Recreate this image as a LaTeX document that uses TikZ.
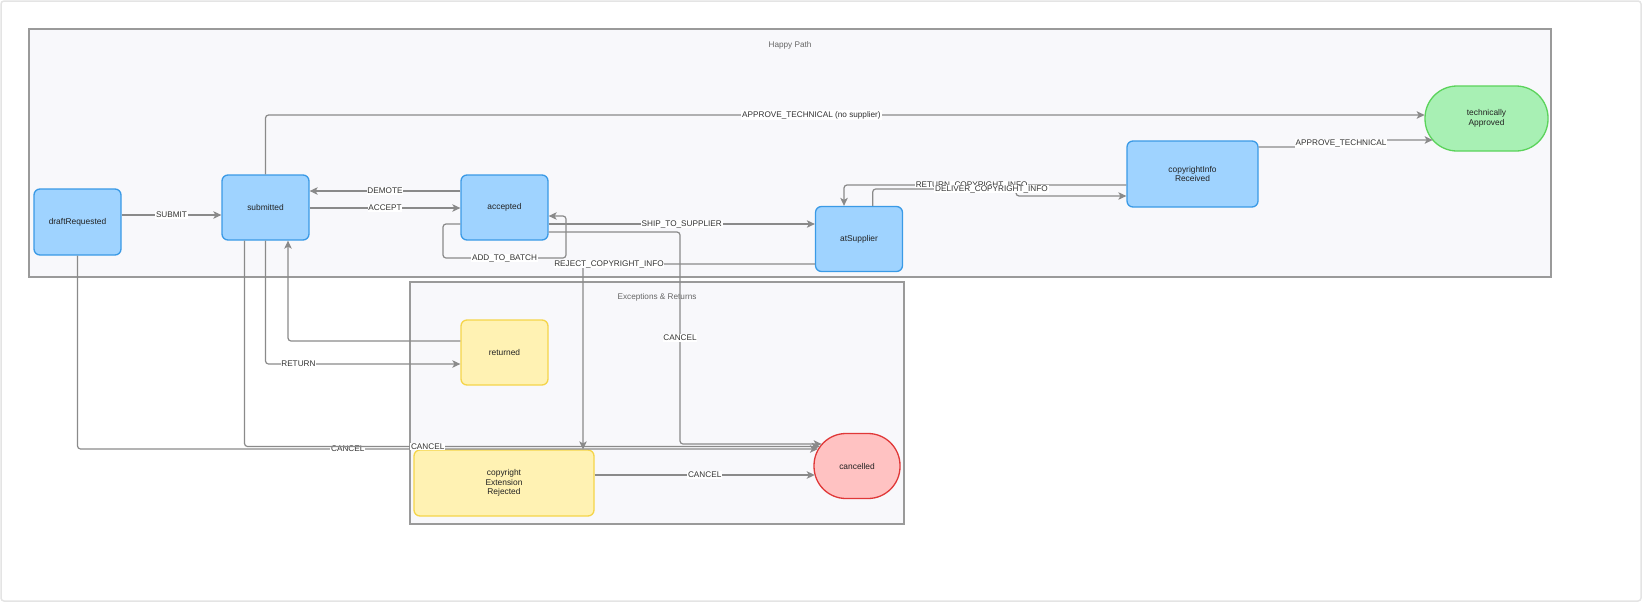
\documentclass[tikz,border=0pt]{standalone}
\usepackage{fontspec}
\setmainfont{Liberation Sans}
\usetikzlibrary{arrows.meta}
\definecolor{bluefill}{HTML}{9FD3FF}
\definecolor{bluedraw}{HTML}{3A9AE6}
\definecolor{greenfill}{HTML}{A8F0B4}
\definecolor{greendraw}{HTML}{5BD35B}
\definecolor{yellowfill}{HTML}{FFF2B3}
\definecolor{yellowdraw}{HTML}{F5D54A}
\definecolor{redfill}{HTML}{FFC2C2}
\definecolor{reddraw}{HTML}{E03838}
\definecolor{framefill}{HTML}{F8F8FB}
\definecolor{framedraw}{HTML}{9A9A9A}
\definecolor{edgegray}{HTML}{8A8A8A}
\definecolor{cardline}{HTML}{E4E4E4}
\definecolor{nodetext}{HTML}{222222}
\definecolor{labeltext}{HTML}{333333}
\definecolor{titletext}{HTML}{666666}
\tikzset{
  stbase/.style={rectangle, rounded corners=6pt, line width=1.3pt, inner sep=0pt,
    minimum width=87pt, minimum height=65pt, align=center, text=nodetext,
    font=\fontsize{8.4}{9.8}\selectfont},
  bstate/.style={stbase, draw=bluedraw, fill=bluefill},
  ystate/.style={stbase, draw=yellowdraw, fill=yellowfill},
  gstate/.style={stbase, rounded corners=32pt, draw=greendraw, fill=greenfill},
  rstate/.style={stbase, rounded corners=32pt, draw=reddraw, fill=redfill},
  framebox/.style={draw=framedraw, fill=framefill, line width=1.1pt},
  ftitle/.style={font=\fontsize{8.2}{9}\selectfont, text=titletext, inner sep=1pt},
  edge/.style={draw=edgegray, line width=1.2pt, rounded corners=3pt,
    -{Stealth[length=8pt,width=7.5pt,inset=2pt]}},
  lbl/.style={fill=white, inner sep=0.8pt, text=labeltext, rounded corners=0pt,
    font=\fontsize{8.2}{9}\selectfont},
}
\begin{document}
\begin{tikzpicture}[x=1pt,y=-1pt]
\useasboundingbox (0,0) rectangle (1645,603);
\draw[cardline, line width=1.5pt, rounded corners=3pt] (1,1) rectangle (1641,601);
% frames
\draw[framebox] (29,29) rectangle (1551,277);
\node[ftitle] (hp) at (790,45) {Happy Path};
\draw[framebox] (410,282) rectangle (904,524);
\node[ftitle] (ex) at (657,297) {Exceptions \& Returns};
% states
\node[bstate, minimum height=66pt] (dr) at (77.5,222) {draftRequested};
\node[bstate] (sub) at (265.5,207.5) {submitted};
\node[bstate] (acc) at (504.5,207.5) {accepted};
\node[bstate] (sup) at (859,239) {atSupplier};
\node[bstate, minimum width=131pt, minimum height=66pt] (cir) at (1192.5,174) {copyrightInfo\\Received};
\node[gstate, minimum width=123pt] (ta) at (1486.5,118.5) {technically\\Approved};
\node[ystate] (ret) at (504.5,352.5) {returned};
\node[ystate, minimum width=180pt, minimum height=66pt] (cer) at (504,483) {copyright\\Extension\\Rejected};
\node[rstate, minimum width=86pt] (can) at (857,466) {cancelled};
% transitions
\draw[edge] (dr.east |- 0,215) -- node[lbl]{SUBMIT} (sub.west |- 0,215);
\draw[edge] (acc.west |- 0,191) -- node[lbl]{DEMOTE} (sub.east |- 0,191);
\draw[edge] (sub.east |- 0,208) -- node[lbl]{ACCEPT} (acc.west |- 0,208);
\draw[edge] (acc.west |- 0,224) -- (443,224) -- (443,258) -- node[lbl]{ADD\_TO\_BATCH} (566,258) -- (566,216) -- (acc.east |- 0,216);
\draw[edge] (sub.north) -- (265.5,115) -- node[lbl,pos=0.471]{APPROVE\_TECHNICAL (no supplier)} ([xshift=0.3pt]ta.west |- 0,115);
\draw[edge] (acc.east |- 0,224) -- node[lbl]{SHIP\_TO\_SUPPLIER} (sup.west |- 0,224);
\draw[edge] (acc.east |- 0,232) -- (680,232) -- node[lbl]{CANCEL} (680,444) -- ([xshift=8.3pt]can.west |- 0,444);
\draw[edge] (sup.west |- 0,264) -- node[lbl,pos=0.888]{REJECT\_COPYRIGHT\_INFO} (583,264) -- (583,0 |- cer.north);
\draw[edge] (cir.west |- 0,185) -- node[lbl,pos=0.548]{RETURN\_COPYRIGHT\_INFO} (844,185) -- (844,0 |- sup.north);
\draw[edge] (872.7,0 |- sup.north) -- (872.7,189) -- node[lbl,pos=0.829]{DELIVER\_COPYRIGHT\_INFO} (1016,189) -- (1016,196) -- (cir.west |- 0,196);
\draw[edge] (cir.east |- 0,147) -- (1341,147) -- node[lbl]{APPROVE\_TECHNICAL} (1341,140) -- ([xshift=8.3pt]ta.west |- 0,140);
\draw[edge] (sub.south) -- (265.5,364) -- node[lbl,pos=0.169]{RETURN} (ret.west |- 0,364);
\draw[edge] (ret.west |- 0,341) -- (288,341) -- (288,0 |- sub.south);
\draw[edge] (dr.south) -- (77.5,449) -- node[lbl,pos=0.365]{CANCEL} ([xshift=4.6pt]can.west |- 0,449);
\draw[edge] (244.5,0 |- sub.south) -- (244.5,446.5) -- node[lbl,pos=0.3185]{CANCEL} ([xshift=6.3pt]can.west |- 0,446.5);
\draw[edge] (cer.east |- 0,475) -- node[lbl]{CANCEL} ([xshift=1.4pt]can.west |- 0,475);
\end{tikzpicture}
\end{document}
